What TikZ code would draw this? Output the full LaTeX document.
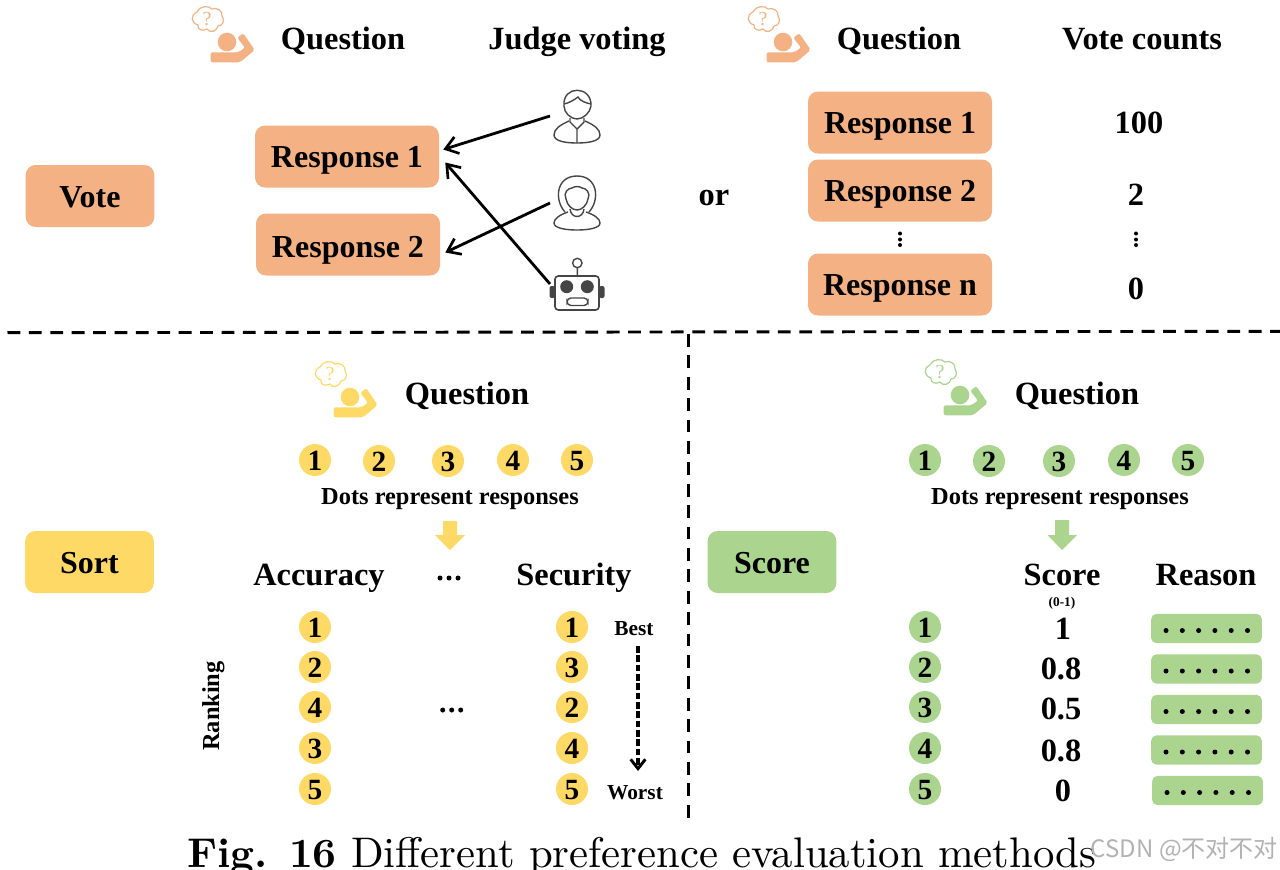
\documentclass[tikz,border=0pt]{standalone}
\usepackage{fontspec}
\setmainfont{Liberation Serif}
\newfontfamily\capfont{lmroman10-regular.otf}[BoldFont=lmroman10-bold.otf]
\newfontfamily\cjkfont{Noto Sans CJK SC}
\usetikzlibrary{arrows.meta}
\definecolor{co}{HTML}{F4B183}
\definecolor{cy}{HTML}{FFD966}
\definecolor{cg}{HTML}{ABD48E}
\definecolor{ic}{HTML}{454545}
\tikzset{
  x=0.75pt,y=-0.75pt,
  resp/.style={fill=co,rounded corners=7.5pt,minimum width=138pt,minimum height=46.5pt,inner sep=0pt,font=\bfseries\fontsize{24}{24}\selectfont,text height=17pt,text depth=0pt},
  catbox/.style={fill=#1,rounded corners=7.5pt,minimum width=96.5pt,minimum height=46.5pt,inner sep=0pt,font=\bfseries\fontsize{24}{24}\selectfont,text height=17.5pt,text depth=0pt},
  head/.style={anchor=base,inner sep=0pt,font=\bfseries\fontsize{24.3}{24}\selectfont},
  smalltxt/.style={anchor=base,inner sep=0pt,font=\bfseries\fontsize{18.3}{18}\selectfont},
  tinytxt/.style={anchor=base,inner sep=0pt,font=\bfseries\fontsize{16}{16}\selectfont},
  dot/.style={circle,fill=#1,minimum size=24pt,inner sep=0pt,font=\bfseries\fontsize{22}{22}\selectfont,text height=16pt,text depth=0pt},
  reasonbox/.style={fill=cg,rounded corners=4pt,minimum width=83pt,minimum height=22pt,inner sep=0pt},
  arr/.style={line width=2.1pt,-{Straight Barb[length=9pt,width=13pt,line width=2pt]}},
  sep/.style={line width=2.2pt,dash pattern=on 9.6pt off 6.45pt},
  pics/askicon/.style={code={
    \fill[#1] (0,0) circle (9.3);
    \fill[#1,rounded corners=1.5pt] (-16.3,10.3) -- (-16.3,20.3) -- (13,20.3) -- (27.7,8) -- (16.3,-8.7) -- (10.3,-4.3) -- (18,5.7) -- (11.3,10.3) -- cycle;
    \draw[#1,line width=0.9pt] (-30,-30) .. controls (-28,-36) and (-18,-37) .. (-15,-33)
      .. controls (-10,-35) and (-4,-31) .. (-5,-26)
      .. controls (-2,-22) and (-4,-16) .. (-9,-16)
      .. controls (-10,-11) and (-17,-8) .. (-20,-13)
      .. controls (-25,-10) and (-30,-13) .. (-29,-17)
      .. controls (-36,-19) and (-37,-27) .. (-30,-30) -- cycle;
    \node[#1,inner sep=0pt,font=\fontsize{15}{15}\selectfont] (-q) at (-20,-23) {?};
  }},
}
\begin{document}
\begin{tikzpicture}
\useasboundingbox (0,0) rectangle (1280,869);
% top section
\pic (ia) at (227,42) {askicon=co};
\pic (ib) at (783,42) {askicon=co};
\node[head] (qa) at (343,49) {Question};
\node[head] (jv) at (577,49) {Judge voting};
\node[head] (qb) at (899,49) {Question};
\node[head] (vc) at (1142,49) {Vote counts};
\node[catbox=co] (vote) at (90,196) {Vote};
\node[resp,text height=16pt] (r1) at (347,156.5) {Response 1};
\node[resp,text height=19pt] (r2) at (348,244.5) {Response 2};
\node[head] (or) at (714,205) {or};
\node[resp] (ra) at (900,122.5) {Response 1};
\node[resp] (rb) at (900,190.5) {Response 2};
\node[resp] (rn) at (900,284.5) {Response n};
\node[head] (v1) at (1139,133) {100};
\node[head] (v2) at (1136,205) {2};
\node[head] (v3) at (1136,299) {0};
\foreach \px in {900,1136}{
  \foreach \py in {233.5,239.5,245}{\fill (\px,\py) circle (2);}
}
% judges
\begin{scope}[line width=1.05pt]
\draw[ic] (564,106) .. controls (562,85) and (592,85) .. (591,106) .. controls (590,113) and (583,119) .. (577,119) .. controls (571,119) and (564,113) .. (564,106);
\draw[ic] (564,104) .. controls (569,103) and (574,100) .. (578,97) .. controls (580,101) and (586,103) .. (591,104);
\draw[ic] (569,121) .. controls (560,125) and (554,129) .. (554,135) .. controls (554,141) and (565,143) .. (577,143) .. controls (589,143) and (600,141) .. (600,135) .. controls (600,129) and (594,125) .. (585,121);
\draw[ic] (570,118) -- (570,122) -- (577,129) -- (584,122) -- (584,118) (577,129) -- (577,143);
\draw[ic] (565,212) .. controls (554,200) and (556,176) .. (577,176) .. controls (598,176) and (600,200) .. (589,212);
\draw[ic] (566,199) .. controls (563,193) and (568,188) .. (572,188) .. controls (575,186) and (579,186) .. (582,188) .. controls (586,188) and (591,193) .. (588,199) .. controls (587,205) and (582,210) .. (577,210) .. controls (572,210) and (567,205) .. (566,199);
\draw[ic] (568,212) .. controls (559,215) and (554,219) .. (554,223) .. controls (554,228) and (565,230) .. (577,230) .. controls (589,230) and (600,228) .. (600,223) .. controls (600,219) and (595,215) .. (586,212);
\draw[ic] (570,209) .. controls (571,219) and (583,219) .. (584,209);
\draw[ic] (577.3,263) circle (4.7) (577.3,267.7) -- (577.3,276);
\draw[ic,rounded corners=2.5pt,line width=1.2pt] (555,276) rectangle (599,310);
\fill[ic,rounded corners=1.5pt] (549.5,286) rectangle (555,298);
\fill[ic,rounded corners=1.5pt] (599,286) rectangle (604.5,298);
\fill[ic] (566.7,286.7) circle (6.5) (587.3,286.7) circle (6.5);
\draw[ic,rounded corners=3pt] (567,298) rectangle (588,305.5);
\end{scope}
\coordinate (man) at (550,116);
\coordinate (woman) at (550,203);
\coordinate (robot) at (550,284);
\draw[arr] (man) -- ([shift={(4,-7)}]r1.east);
\draw[arr] (robot) -- ([shift={(6,6)}]r1.east);
\draw[arr] (woman) -- ([shift={(5,8)}]r2.east);
% separators
\coordinate (sl) at (-13.9,332.7); \coordinate (sr) at (1280,331.3);
\coordinate (vt) at (688.7,334); \coordinate (vb) at (688.7,818);
\draw[sep] (sl) -- (sr);
\draw[sep] (vt) -- (vb);
% sort
\node[catbox=cy] (sort) at (89.5,562) {Sort};
\pic (ic) at (350,397) {askicon=cy};
\node[head] (qc) at (467,404) {Question};
\foreach \n/\px/\py in {1/315/460,2/379/461,3/448/461,4/513/460,5/577/460}
  \node[dot=cy] (ys\n) at (\px,\py) {\n};
\node[smalltxt] (dc) at (450,504) {Dots represent responses};
\fill[cy] (443,521) rectangle (457,535) (435,535) -- (465,535) -- (450,550) -- cycle;
\node[head] (acc) at (319,585) {Accuracy};
\node[head] (sec) at (574,585) {Security};
\foreach \px/\py in {440/578,449/578,458/578,442.7/710,451.7/710,460.7/710}
  \fill (\px,\py) circle (2.5);
\foreach \n/\py/\a/\b in {1/627/1/1,2/667/2/3,3/707/4/2,4/748/3/4,5/789/5/5}{
  \node[dot=cy] (yl\n) at (315,\py) {\a};
  \node[dot=cy] (yr\n) at (572,\py) {\b};
}
\node[smalltxt,rotate=90,anchor=base] (rank) at (219,706) {Ranking};
\node[tinytxt] (best) at (634,635) {Best};
\node[tinytxt] (worst) at (635,799) {Worst};
\coordinate (ba) at (638,646); \coordinate (bb) at (638,771);
\draw[line width=2.3pt,dash pattern=on 5pt off 2pt,-{Straight Barb[length=7pt,width=11pt,line width=2.2pt]}] (ba) -- (bb);
% score
\node[catbox=cg] (score) at (772,562) {Score};
\pic (id) at (960,395) {askicon=cg};
\node[head] (qd) at (1077,404) {Question};
\foreach \n/\px/\py in {1/925/460,2/989/461,3/1059/461,4/1124/460,5/1188/460}
  \node[dot=cg] (gs\n) at (\px,\py) {\n};
\node[smalltxt] (dd) at (1060,504) {Dots represent responses};
\fill[cg] (1055,520) rectangle (1069,535) (1047.5,535) -- (1077,535) -- (1062,550) -- cycle;
\node[head] (sc) at (1062,585) {Score};
\node[head] (re) at (1206,585) {Reason};
\node[anchor=base,inner sep=0pt,font=\bfseries\fontsize{10}{10}\selectfont] (rg) at (1062,606) {(0-1)};
\foreach \n/\py/\v/\vx/\vy/\bx/\by in {1/627/1/1063/639/1206.5/628.5,2/667/0.8/1061/679/1206.5/669,3/707/0.5/1061/719/1206.5/709.5,4/748/0.8/1061/761/1206.5/750,5/789/0/1063/801/1207.5/790.5}{
  \node[dot=cg] (gl\n) at (925,\py) {\n};
  \node[head] (val\n) at (\vx,\vy) {\v};
  \node[reasonbox] (rb\n) at (\bx,\by) {};
  \foreach \k in {0,...,5}
    \fill ([shift={(-40.5+16.3*\k,2)}]rb\n.center) circle (2.5);
}
% caption
\node[anchor=base west,inner sep=0pt,font=\capfont\fontsize{32.1}{32}\selectfont] (cap) at (187,867) {{\bfseries\fontsize{31.2}{32}\selectfont Fig. 16} Different preference evaluation methods};
\node[anchor=base east,inner sep=0pt,text=black!30,font=\cjkfont\fontsize{18}{18}\selectfont] (wm) at (1278,857) {CSDN @不对不对};
\end{tikzpicture}
\end{document}
